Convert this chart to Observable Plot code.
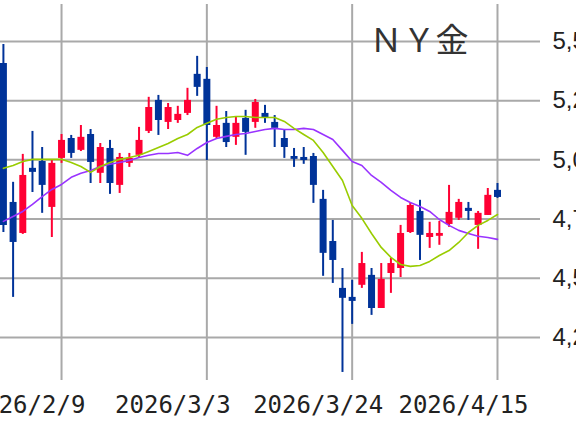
<!DOCTYPE html>
<html>
<head>
<meta charset="utf-8">
<script src="https://cdn.jsdelivr.net/npm/d3@7"></script>
<script src="https://cdn.jsdelivr.net/npm/@observablehq/plot@0.6"></script>
<style>
  html, body { margin: 0; padding: 0; background: #fff; overflow: hidden; }
</style>
</head>
<body>
<div id="chart"></div>
<script>
const title = "ＮＹ金";
const dates = [
  "2026/1/30","2026/2/2","2026/2/3","2026/2/4","2026/2/5","2026/2/6",
  "2026/2/9","2026/2/10","2026/2/11","2026/2/12","2026/2/13",
  "2026/2/17","2026/2/18","2026/2/19","2026/2/20",
  "2026/2/23","2026/2/24","2026/2/25","2026/2/26","2026/2/27",
  "2026/3/2","2026/3/3","2026/3/4","2026/3/5","2026/3/6",
  "2026/3/9","2026/3/10","2026/3/11","2026/3/12","2026/3/13",
  "2026/3/16","2026/3/17","2026/3/18","2026/3/19","2026/3/20",
  "2026/3/23","2026/3/24","2026/3/25","2026/3/26","2026/3/27",
  "2026/3/30","2026/3/31","2026/4/1","2026/4/2",
  "2026/4/6","2026/4/7","2026/4/8","2026/4/9","2026/4/10",
  "2026/4/13","2026/4/14","2026/4/15"
];
const open = [5407,4820,4689,4964,4993,4799,
  5006,5090,5040,5107,4943,5048,4892,4985,5019,5120,5251,5158,5166,5196,5361,
  5340,5095,5154,5095,5175,5158,5196,5158,5090,5014,5010,5014,4833,4655,4457,
  4419,4470,4512,4372,4520,4541,4693,4782,4672,4677,4727,4753,4795,4723,4765,4871];
const high = [5487,4905,5023,5120,5052,4997,
  5107,5103,5145,5128,5069,5082,5027,5027,5137,5264,5272,5238,5226,5302,5437,
  5390,5226,5204,5179,5209,5255,5230,5187,5124,5048,5052,5027,4871,4744,4541,
  4491,4609,4541,4562,4584,4723,4816,4829,4736,4740,4892,4833,4820,4782,4879,4900];
const low = [4693,4419,4685,4862,4774,4672,
  4985,5006,5035,4900,4900,4854,4858,4968,5010,5111,5103,5128,5154,5187,5268,
  4997,5090,5052,5061,5019,5133,5154,5052,5006,4968,4981,4816,4508,4478,4102,
  4305,4457,4343,4372,4436,4503,4689,4575,4626,4639,4715,4744,4744,4622,4765,4837];
const close = [4723,4651,4934,4947,4892,4985,
  5082,5027,5095,4989,5052,4900,5010,5006,5082,5221,5166,5221,5192,5251,5306,
  5145,5145,5073,5154,5116,5242,5175,5133,5052,5002,4997,4892,4605,4575,4415,
  4402,4562,4372,4495,4562,4689,4807,4681,4689,4689,4778,4820,4782,4774,4850,4841];
const maShort = [4964,4976,4993,5002,5002,5002,
  5002,4989,4972,4947,4972,4989,5002,5010,5019,5035,5052,5069,5090,5107,5137,
  5154,5171,5179,5183,5183,5179,5179,5179,5162,5133,5107,5082,5031,4972,4913,
  4807,4753,4689,4630,4588,4558,4550,4554,4571,4596,4617,4651,4693,4723,4744,4769];
const maLong = [4740,4761,4782,4812,4845,4875,
  4896,4926,4943,4955,4972,4981,4989,4997,5010,5019,5027,5027,5031,5019,5048,
  5073,5090,5099,5107,5111,5120,5128,5133,5128,5128,5133,5128,5107,5086,5040,
  4993,4976,4934,4905,4871,4841,4820,4803,4782,4748,4723,4702,4689,4677,4672,4664];
const yTicks = [4250, 4500, 4750, 5000, 5250, 5500];
const xTickDates = ["2026/2/9", "2026/3/3", "2026/3/24", "2026/4/15"];

const rows = dates.map((d, k) => ({
  i: k, date: d, open: open[k], high: high[k], low: low[k], close: close[k],
  maShort: maShort[k], maLong: maLong[k]
}));
const up = rows.filter(r => r.close >= r.open);
const down = rows.filter(r => r.close < r.open);
const xTickIdx = xTickDates.map(d => dates.indexOf(d));

const RED = "#ff0033", BLUE = "#003399", GREEN = "#99cc00", PURPLE = "#9933ff", GRID = "#a9a9a9";

const chart = Plot.plot({
  width: 576,
  height: 430,
  marginLeft: 0,
  marginRight: 36,
  marginTop: 4,
  marginBottom: 50,
  style: { fontFamily: "DejaVu Sans", background: "#fff", color: "#222" },
  x: { domain: [-0.3, 55.44], axis: null },
  y: { domain: [4068, 5656], axis: null },
  marks: [
    Plot.gridY(yTicks, { stroke: GRID, strokeOpacity: 1, strokeWidth: 2 }),
    Plot.gridX(xTickIdx, { stroke: GRID, strokeOpacity: 1, strokeWidth: 2 }),
    Plot.axisY(yTicks, { anchor: "right", label: null, tickSize: 0, tickPadding: 12, fontSize: 24,
      fontFamily: "'Liberation Sans Narrow', 'Liberation Sans', sans-serif", tickFormat: d3.format(",") }),
    Plot.axisX(xTickIdx, { anchor: "bottom", label: null, tickSize: 0, tickPadding: 15, fontSize: 24,
      fontFamily: "'DejaVu Sans Mono', monospace", tickFormat: k => dates[k], dx: -34 }),
    Plot.ruleX(up, { x: "i", y1: "low", y2: "high", stroke: RED, strokeWidth: 2 }),
    Plot.ruleX(down, { x: "i", y1: "low", y2: "high", stroke: BLUE, strokeWidth: 2 }),
    Plot.ruleX(up, { x: "i", y1: "open", y2: "close", stroke: RED, strokeWidth: 7, strokeLinecap: "butt" }),
    Plot.ruleX(down, { x: "i", y1: "open", y2: "close", stroke: BLUE, strokeWidth: 7, strokeLinecap: "butt" }),
    Plot.line(rows, { x: "i", y: "maLong", stroke: PURPLE, strokeWidth: 1.6 }),
    Plot.line(rows, { x: "i", y: "maShort", stroke: GREEN, strokeWidth: 1.6 }),
    Plot.text([title], { frameAnchor: "top-left", dx: 369, dy: 37, textAnchor: "start", lineAnchor: "middle",
      fontSize: 33, fill: "#333", fontFamily: "Noto Sans CJK JP" })
  ]
});
document.getElementById("chart").appendChild(chart);
</script>
</body>
</html>
